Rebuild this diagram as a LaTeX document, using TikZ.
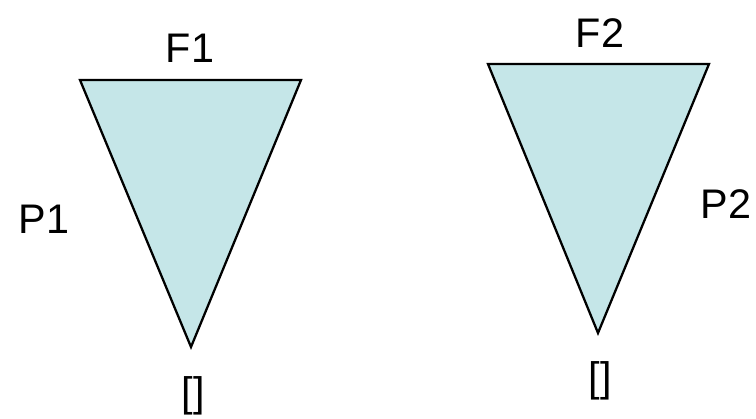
\documentclass[tikz,border=0pt]{standalone}
\usepackage{fontspec}
\setmainfont{Liberation Sans}
\usepackage{tikz}
\usetikzlibrary{positioning}
\definecolor{funnelfill}{HTML}{C5E6E8}
\tikzset{
  funnel/.style={draw=black, line width=1.7pt, line join=miter, fill=funnelfill},
  tag/.style={anchor=base, inner sep=0pt, font=\fontsize{31}{37}\selectfont},
}

\begin{document}
\begin{tikzpicture}[x=0.75pt, y=-0.75pt]
  \useasboundingbox (0,0) rectangle (756,418);
  % first funnel
  \coordinate (a1) at (80,80);
  \coordinate (b1) at (301,80);
  \coordinate (c1) at (191,347);
  \filldraw[funnel] (a1) -- (b1) -- (c1) -- cycle;
  \node[tag] (f1) at (190,62) {F1};
  \node[tag] (p1) at (44,233) {P1};
  \node[tag] (e1) at (193,406) {[]};

  % second funnel
  \coordinate (a2) at (488,64);
  \coordinate (b2) at (709,64);
  \coordinate (c2) at (598,333);
  \filldraw[funnel] (a2) -- (b2) -- (c2) -- cycle;
  \node[tag] (f2) at (600,47) {F2};
  \node[tag] (p2) at (726,218) {P2};
  \node[tag] (e2) at (600,391) {[]};
\end{tikzpicture}
\end{document}
